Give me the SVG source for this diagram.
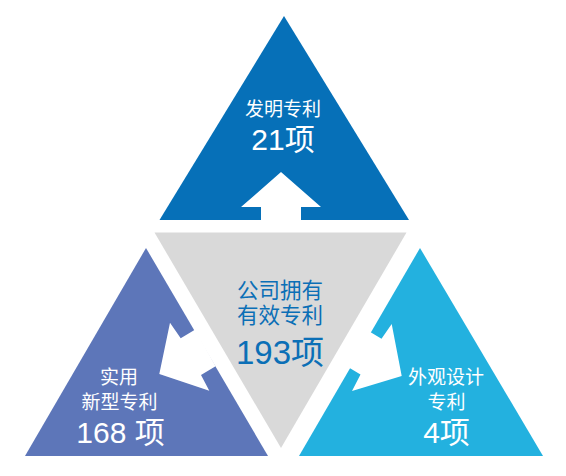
<svg xmlns="http://www.w3.org/2000/svg" width="566" height="476" viewBox="0 0 566 476">
<style>
  text { font-family: "Liberation Sans", "Noto Sans CJK SC", sans-serif; text-anchor: middle; }
  .w { fill: #ffffff; }
  .c { fill: #0B6FB6; }
  .s { font-size: 19px; }
  .b { font-size: 30px; }
  .cs { font-size: 21.5px; }
  .cb { font-size: 33px; }
  .arrow { fill: #ffffff; }
</style>
<rect width="566" height="476" fill="#ffffff"/>
<g id="node-invention">
  <polygon points="284,16 159.5,220 409,220" fill="#0670B8"/>
  <text class="w s" x="283" y="115.5">发明专利</text>
  <text class="w b" x="283" y="150">21项</text>
</g>
<g id="node-center">
  <polygon points="154.5,232.5 406.5,232.5 281,448" fill="#D9D9D9"/>
  <text class="c cs" x="280" y="298">公司拥有</text>
  <text class="c cs" x="280" y="323">有效专利</text>
  <text class="c cb" x="280" y="364">193项</text>
</g>
<g id="node-utility">
  <polygon points="146,248 25,456 268,456" fill="#5D76B9"/>
  <text class="w s" x="119" y="383.5">实用</text>
  <text class="w s" x="119.5" y="408.5">新型专利</text>
  <text class="w b" x="120.5" y="443">168 项</text>
</g>
<g id="node-design">
  <polygon points="420,248 299,456 543,456" fill="#23B1DF"/>
  <text class="w s" x="446" y="383.5">外观设计</text>
  <text class="w s" x="446.5" y="408.5">专利</text>
  <text class="w b" x="446.5" y="443">4项</text>
</g>
<g id="connectors">
  <polygon class="arrow" points="281,172 321,207 301,207 301,222 261,222 261,207 241,207"/>
  <polygon class="arrow" points="159.3,374 170,322.7 180.7,338.3 195.3,329.5 215.6,366.2 201,375 209.3,390.7"/>
  <polygon class="arrow" points="401.7,376 391.7,324 381.5,338.8 366.9,330 345.9,365.7 360.5,374.5 352,391"/>
</g>
</svg>
